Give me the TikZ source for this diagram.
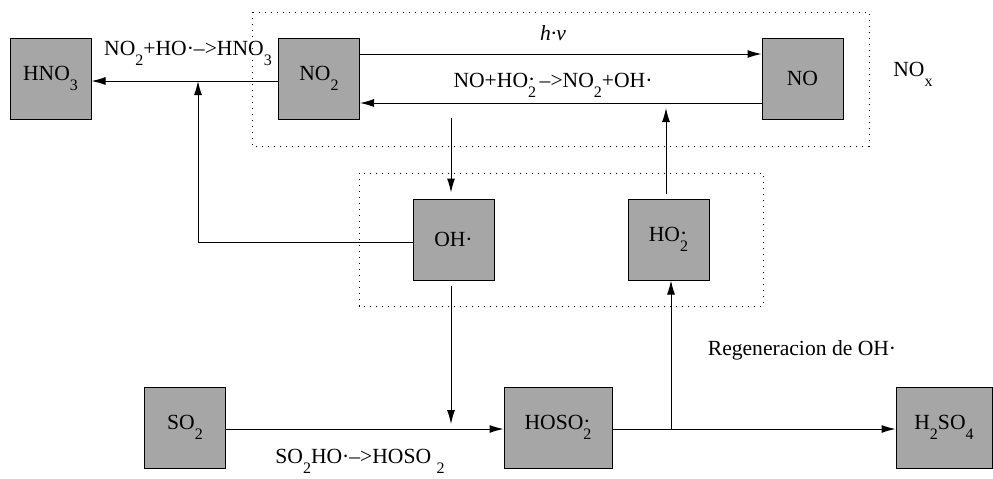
\documentclass[tikz,border=0pt]{standalone}
\usepackage{fontspec}
\setmainfont{Liberation Serif}
\usetikzlibrary{arrows.meta,positioning}
\definecolor{specie}{RGB}{166,166,166}
\newcommand{\dn}[1]{\raisebox{-5pt}{\fontsize{8}{8}\selectfont #1}}
\newcommand{\rad}[1]{\rlap{\raisebox{0.5pt}{·}}\dn{#1}}

\begin{document}
\begin{tikzpicture}[x=0.5pt,y=-0.5pt,line width=0.5pt,
  every node/.style={font=\fontsize{10.8}{12}\selectfont},
  box/.style={rectangle,draw,fill=specie,minimum width=40.5pt,minimum height=40.5pt,inner sep=0pt},
  flow/.style={-{Latex[length=7pt,width=4pt]}},
  zone/.style={dash pattern=on 0.6pt off 2.4pt}]
\useasboundingbox (0,0) rectangle (993,478);
% cycles
\draw[zone] (252,12) rectangle (869,146);
\draw[zone] (359,173) rectangle (763,306);
% species
\node[box] (hno3) at (50.5,78.5) {HNO\dn{3}};
\node[box] (no2) at (319,78.5) {NO\dn{2}};
\node[box] (no) at (802.5,78.5) {NO};
\node[box] (oh) at (453.5,239.5) {OH·};
\node[box] (ho2) at (668.5,239.5) {HO\rad{2}};
\node[box] (so2) at (185,427.5) {SO\dn{2}};
\node[box,minimum width=54pt] (hoso2) at (558,427.5) {HOSO\rad{2}};
\node[box,minimum width=48pt] (h2so4) at (944,427.5) {H\dn{2}SO\dn{4}};
% reactions
\node (rhno3) at (188,53) {NO\dn{2}+HO·–>HNO\dn{3}};
\node (rhv) at (553,33) {\textit{h·v}};
\node (rno) at (553,85) {NO+HO\rad{2}\,–>NO\dn{2}+OH·};
\node (nox) at (913,74) {NO\dn{x}};
\node (rso2) at (360,461) {SO\dn{2}HO·–>HOSO \dn{2}};
\node (rregen) at (802,350) {Regeneracion de OH·};
% arrows
\coordinate (tie) at (198,81);
\coordinate (ohin) at (451,118);
\coordinate (ohout) at (451,424);
\coordinate (hoout) at (666,108);
\coordinate (regen) at (671,429);
\draw[flow] ([yshift=12.25pt]no2.east) -- ([yshift=12.25pt]no.west);
\draw[flow] ([yshift=-12.25pt]no.west) -- ([yshift=-12.25pt]no2.east);
\draw[flow] ([yshift=-1.25pt]no2.west) -- ([yshift=-1.25pt]hno3.east);
\draw[flow] ([yshift=-1.25pt]oh.west) -| (tie);
\draw[flow,shorten >=3pt] (ohin) -- (ohin |- oh.north);
\draw[flow,shorten <=2.5pt] (ohout |- oh.south) -- (ohout);
\draw[flow,shorten <=2.5pt] (hoout |- ho2.north) -- (hoout);
\draw[flow] ([yshift=-0.75pt]so2.east) -- ([yshift=-0.75pt]hoso2.west);
\draw[flow] ([yshift=-0.75pt]hoso2.east) -- ([yshift=-0.75pt]h2so4.west);
\draw[flow] (regen) -- (regen |- ho2.south);
\end{tikzpicture}
\end{document}
